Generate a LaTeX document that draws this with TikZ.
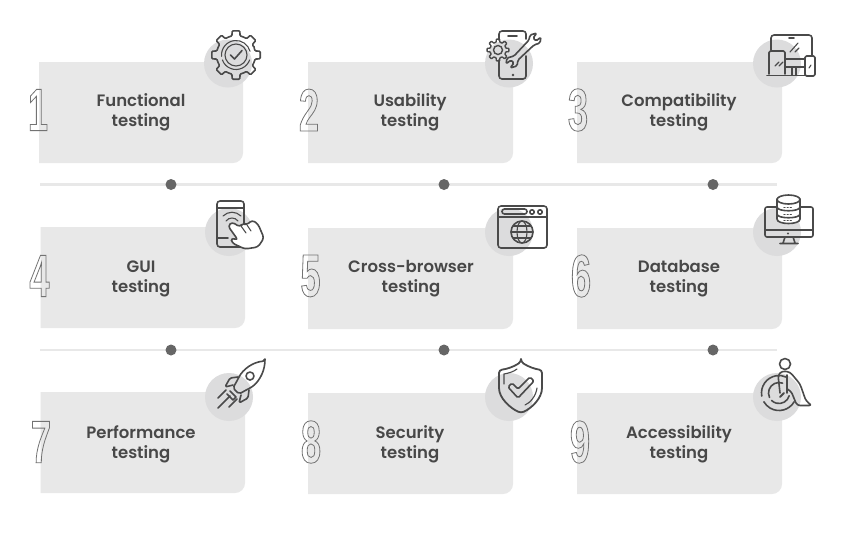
\documentclass[tikz,border=0pt]{standalone}
\usepackage{fontspec}
\setmainfont{Poppins}[BoldFont={Poppins SemiBold}]
\newfontfamily\digfont[FakeStretch=0.6]{Liberation Sans Bold}
\usetikzlibrary{calc}
\definecolor{cardgray}{HTML}{E8E8E8}
\definecolor{disc}{HTML}{DCDCDD}
\definecolor{inkgray}{HTML}{4A4A4A}
\definecolor{textgray}{HTML}{484848}
\definecolor{railgray}{HTML}{E8E8E8}
\definecolor{dotgray}{HTML}{666666}
\newcommand{\outlinedigit}[1]{\special{pdf:code 1 Tr 0.8 w 0.45 0.45 0.45 RG}#1\special{pdf:code 0 Tr 0 0 0 RG}}
\newcommand{\mycard}[4]{%
  \fill[cardgray] (#1,#2) -- (#3,#2) [rounded corners=10pt] -- (#3,#4) [sharp corners] -- (#1,#4) -- cycle;}
\tikzset{
  label/.style={font=\bfseries\fontsize{16.5}{20}\selectfont,text=textgray,align=center,inner sep=0pt},
  digit/.style={font=\digfont\fontsize{60}{60}\selectfont,inner sep=0pt,text=white},
  discnode/.style={circle,fill=disc,minimum size=48pt,inner sep=0pt},
  raildot/.style={circle,fill=dotgray,minimum size=11pt,inner sep=0pt},
  rail/.style={draw=railgray,line width=2.2pt},
  ico/.style={draw=inkgray,line width=1.6pt,line join=round,line cap=round},
  icot/.style={draw=inkgray,line width=1.1pt,line cap=round},
}
\begin{document}
\begin{tikzpicture}[x=1pt,y=-1pt]
\useasboundingbox (0,0) rectangle (850,542);
\fill[white] (0,0) rectangle (850,542);
% cards
\mycard{39}{62}{243}{163}
\mycard{308}{62}{513}{163}
\mycard{577}{62}{782}{163}
\mycard{40.5}{227}{245}{328}
\mycard{308}{228}{513}{329}
\mycard{577}{228}{782}{329}
\mycard{40.5}{392}{245}{493}
\mycard{308}{393}{513}{494}
\mycard{577}{393}{782}{494}
% discs
\node[discnode] (c1) at (228,63.5) {};
\node[discnode] (c2) at (509,63.5) {};
\node[discnode] (c3) at (777,63.5) {};
\node[discnode] (c4) at (229,232) {};
\node[discnode] (c5) at (509,232) {};
\node[discnode] (c6) at (777,232) {};
\node[discnode] (c7) at (229,397) {};
\node[discnode] (c8) at (509,397) {};
\node[discnode] (c9) at (777,397) {};
% labels
\node[label] (t1) at (141,112.5) {Functional\\testing};
\node[label] (t2) at (410,112.5) {Usability\\testing};
\node[label] (t3) at (679,112.5) {Compatibility\\testing};
\node[label] (t4) at (141,278.5) {GUI\\testing};
\node[label] (t5) at (411,278.5) {Cross-browser\\testing};
\node[label] (t6) at (679,278.5) {Database\\testing};
\node[label] (t7) at (141,444.5) {Performance\\testing};
\node[label] (t8) at (410,444.5) {Security\\testing};
\node[label] (t9) at (679,444.5) {Accessibility\\testing};
% digits
\node[digit] (d1) at (38,110) {\outlinedigit{1}};
\node[digit] (d2) at (309,110) {\outlinedigit{2}};
\node[digit] (d3) at (578,110) {\outlinedigit{3}};
\node[digit] (d4) at (39.5,276) {\outlinedigit{4}};
\node[digit] (d5) at (310.5,276) {\outlinedigit{5}};
\node[digit] (d6) at (581,276) {\outlinedigit{6}};
\node[digit] (d7) at (41,442) {\outlinedigit{7}};
\node[digit] (d8) at (311,442) {\outlinedigit{8}};
\node[digit] (d9) at (580,442) {\outlinedigit{9}};
% rails
\coordinate (r1a) at (40,184.5);
\coordinate (r1b) at (777,184.5);
\coordinate (r2a) at (40,350);
\coordinate (r2b) at (777,350);
\draw[rail] (r1a) -- (r1b);
\draw[rail] (r2a) -- (r2b);
\node[raildot] (p1) at (171,184.5) {};
\node[raildot] (p2) at (444,184.5) {};
\node[raildot] (p3) at (713,184.5) {};
\node[raildot] (p4) at (171,350) {};
\node[raildot] (p5) at (444,350) {};
\node[raildot] (p6) at (713,350) {};
% icon 1: gear
\begin{scope}[shift={(236,55)}]
\draw[ico,rounded corners=1pt] (-22.5:19.5)
  \foreach \a in {0,45,...,315} {
    -- ({\a-12}:19.5) -- ({\a-9}:24.5) -- ({\a+9}:24.5) -- ({\a+12}:19.5) -- ({\a+22.5}:19.5)
  } -- cycle;
\draw[icot] (20:14.5) arc[start angle=20,end angle=160,radius=14.5];
\draw[icot] (175:14.5) arc[start angle=175,end angle=345,radius=14.5];
\draw[icot] (0,0) circle[radius=11];
\draw[ico] (-5.5,0) -- (-1.5,4) -- (6,-4.5);
\end{scope}
% icon 2: phone, gear, wrench
\draw[ico,rounded corners=3pt] (499,40) -- (499,31) -- (526,31) -- (526,39);
\draw[ico,rounded corners=3pt] (499,60) -- (499,79) -- (526,79) -- (526,56);
\draw[ico] (508,36) -- (517,36);
\fill[inkgray] (513,75) circle[radius=1.3];
\begin{scope}[shift={(498,50)}]
\draw[icot,line width=1.4pt,rounded corners=0.6pt] (-22.5:8)
  \foreach \a in {0,45,...,315} {
    -- ({\a-13}:8) -- ({\a-9}:11) -- ({\a+9}:11) -- ({\a+13}:8) -- ({\a+22.5}:8)
  } -- cycle;
\draw[icot,line width=1.4pt] (0,0) circle[radius=4.5];
\end{scope}
\draw[ico,rounded corners=1.5pt] (514,56) -- (529,40) -- (530,35) -- (537,33) -- (533,38) -- (536,41) -- (541,37) -- (540,43) -- (534,45) -- (518,60) -- (517,66) -- (510,68) -- (514,63) -- (511,60) -- (506,64) -- (507,58) -- cycle;
% icon 3: devices
\draw[ico,rounded corners=3pt] (771,50) -- (771,35) -- (812,35) -- (812,55);
\draw[ico] (789,38) -- (794,38);
\draw[icot] (790,52) -- (798,43) (795,52) -- (799,48);
\draw[ico,rounded corners=1.5pt] (769,74) -- (769,51) -- (785,51) -- (785,74);
\draw[ico] (767,75.5) -- (787,75.5);
\draw[icot] (775,66) -- (779,62) (779,66) -- (783,62);
\draw[ico,rounded corners=1.5pt] (805,56) rectangle (815,76);
\draw[icot] (809,68) -- (811,65);
\draw[ico] (786,59) -- (805,59) (786,67) -- (805,67) (792,67) -- (792,75) (796,67) -- (796,75) (787,75.5) -- (805,75.5);
% icon 4: phone and hand
\draw[ico,rounded corners=3pt] (217,201) rectangle (244,247);
\draw[ico] (217,208) -- (244,208) (217,238) -- (228,238);
\draw[icot] (226,221) .. controls (229,217) and (235,217) .. (238,221);
\draw[icot] (223,216) .. controls (228,211) and (236,211) .. (241,216);
\draw[ico,fill=white,rounded corners=3pt] (245,249) -- (258,247) -- (264,238) -- (258,224) -- (252,220) -- (247,225) -- (243,223) -- (240,227) -- (232,222) -- (228,226) -- (238,240) -- (231,238) -- (232,243) -- cycle;
\draw[icot] (241,226) -- (246,233) (247,225) -- (251,231);
% icon 5: browser
\draw[ico,rounded corners=3pt] (498,206) rectangle (547,248);
\draw[ico] (498,217) -- (547,217);
\draw[ico,rounded corners=2.4pt] (502,209) rectangle (527,214);
\draw[ico] (532,212) circle[radius=2.2];
\draw[ico] (540,212) circle[radius=2.2];
\draw[ico] (522,232) circle[radius=11];
\draw[icot] (522,232) ellipse[x radius=5,y radius=11];
\draw[icot] (511,232) -- (533,232) (513,226) -- (531,226) (513,238) -- (531,238);
% icon 6: database on monitor
\draw[ico,rounded corners=2pt] (765,237) -- (765,207) -- (813,207) -- (813,237) -- cycle;
\draw[ico] (765,230) -- (813,230);
\fill[inkgray] (788,233.5) circle[radius=1.2];
\draw[ico] (785,237) -- (783,243) (793,237) -- (795,243) (780,243.5) -- (798,243.5);
\draw[ico,fill=white] (777,199) -- (777,219) .. controls (777,225) and (800,225) .. (800,219) -- (800,199) -- cycle;
\draw[ico,fill=white] (788.5,199.5) ellipse[x radius=11.5,y radius=4.5];
\draw[ico] (777,207) .. controls (777,212) and (800,212) .. (800,207);
\draw[ico] (777,214) .. controls (777,219) and (800,219) .. (800,214);
\draw[icot,dotted] (784,207.5) -- (793,207.5) (784,214.5) -- (793,214.5) (784,220.5) -- (793,220.5);
% icon 7: rocket
\draw[ico,rounded corners=2pt] (265,361) .. controls (253,362) and (243,369) .. (238,379) -- (233,388) -- (239,394) -- (248,389) .. controls (258,384) and (264,373) .. (265,361) -- cycle;
\draw[ico] (250,376) circle[radius=4];
\draw[ico,rounded corners=1.5pt] (238,377) -- (230,378) -- (225,387) -- (233,385);
\draw[ico,rounded corners=1.5pt] (249,390) -- (248,398) -- (239,403) -- (241,395);
\draw[ico] (230,391) -- (236,397) -- (233,400) -- (227,394);
\draw[ico] (218,398) -- (226,390) (218,408) -- (230,396) (229,407) -- (237,399);
% icon 8: shield
\draw[ico,rounded corners=3pt,line width=1.8pt] (521,362) .. controls (513,367) and (507,369) .. (499,370) -- (499,385) .. controls (499,398) and (510,408) .. (521,413) .. controls (532,408) and (542,398) .. (542,385) -- (542,370) .. controls (535,369) and (529,367) .. (521,362) -- cycle;
\draw[icot] (504,384) -- (504,374) .. controls (509,373) and (513,372) .. (517,369);
\draw[icot] (537,388) .. controls (536,396) and (530,403) .. (525,405);
\draw[ico,rounded corners=1.5pt] (508,387) -- (512,383) -- (518,389) -- (530,377) -- (534,381) -- (518,398) -- cycle;
% icon 9: wheelchair
\draw[ico] (785,364) circle[radius=5.5];
\draw[ico,rounded corners=3pt] (780,393) -- (778,375) -- (782,371) -- (790,372) -- (800,384) -- (806,401) -- (812,405.5) -- (797,405.5) -- (791,391) -- (787,389);
\draw[ico] (787,375) -- (787,393);
\begin{scope}[shift={(779,393)}]
\draw[ico] (30:17.5) arc[start angle=30,end angle=150,radius=17.5];
\draw[ico] (170:17.5) arc[start angle=170,end angle=295,radius=17.5];
\draw[ico] (15:10.5) arc[start angle=15,end angle=135,radius=10.5];
\draw[ico] (155:10.5) arc[start angle=155,end angle=290,radius=10.5];
\draw[icot,line width=2pt] (1,4) -- (5,0);
\end{scope}
\end{tikzpicture}
\end{document}
